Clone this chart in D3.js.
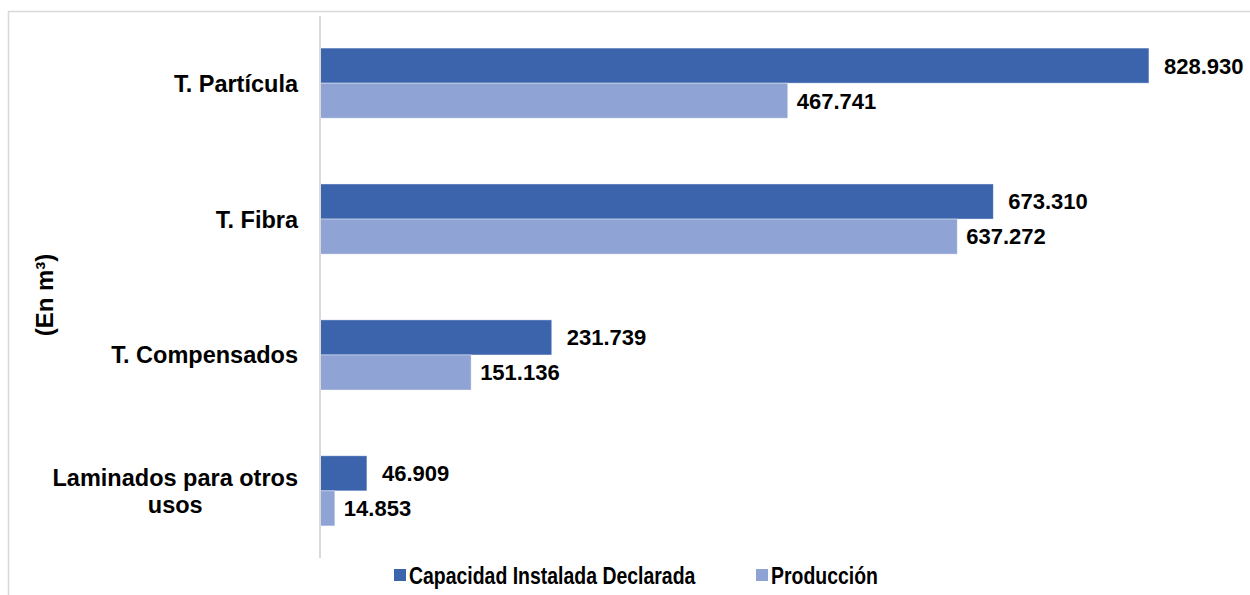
<!DOCTYPE html>
<html>
<head>
<meta charset="utf-8">
<script src="https://cdn.jsdelivr.net/npm/d3@7"></script>
<style>
  body { margin: 0; background: #fff; }
  text { font-family: "Liberation Sans", Arial, sans-serif; font-weight: bold; fill: #000; }
</style>
</head>
<body>
<div id="chart"></div>
<script>
const width = 1250;
const height = 595;

// data (m3)
const categories = ["T. Partícula", "T. Fibra", "T. Compensados", "Laminados para otros usos"];
const categoryLines = [["T. Partícula"], ["T. Fibra"], ["T. Compensados"], ["Laminados para otros", "usos"]];
const seriesNames = ["Capacidad Instalada Declarada", "Producción"];
const capacidad = [828930, 673310, 231739, 46909];
const produccion = [467741, 637272, 151136, 14853];
const seriesColors = ["#3b64ad", "#8fa4d5"];

const labelGap = [15, 9];
const fmt = v => d3.format(",")(v).replace(/,/g, ".");

const svg = d3.select("#chart")
  .append("svg")
  .attr("width", width)
  .attr("height", height);

// chart frame
svg.append("rect")
  .attr("x", 8.5)
  .attr("y", 11.5)
  .attr("width", 1400)
  .attr("height", 800)
  .attr("fill", "#fff")
  .attr("stroke", "#d9d9d9")
  .attr("stroke-width", 1.5);

const x = d3.scaleLinear()
  .domain([0, 930000])
  .range([320, 1250]);

const y = d3.scaleBand()
  .domain(categories)
  .range([16, 558])
  .paddingInner(0.484)
  .paddingOuter(0.236);

const ySub = d3.scaleBand()
  .domain(seriesNames)
  .range([0, y.bandwidth()]);

const rows = categories.map((c, i) => ({
  category: c,
  lines: categoryLines[i],
  values: [capacidad[i], produccion[i]]
}));

const groups = svg.selectAll(".grp")
  .data(rows)
  .enter()
  .append("g")
  .attr("class", "grp")
  .attr("transform", d => `translate(0, ${y(d.category)})`);

groups.selectAll("rect")
  .data(d => d.values.map((v, k) => ({ v, k })))
  .enter()
  .append("rect")
  .attr("x", x(0))
  .attr("y", d => ySub(seriesNames[d.k]))
  .attr("width", d => x(d.v) - x(0))
  .attr("height", ySub.bandwidth())
  .attr("fill", d => seriesColors[d.k])
  .attr("stroke", "#fff")
  .attr("stroke-opacity", 0.5)
  .attr("stroke-width", 0.8);

groups.selectAll(".val")
  .data(d => d.values.map((v, k) => ({ v, k })))
  .enter()
  .append("text")
  .attr("class", "val")
  .attr("x", d => x(d.v) + labelGap[d.k])
  .attr("y", d => ySub(seriesNames[d.k]) + ySub.bandwidth() / 2)
  .attr("dy", "0.36em")
  .style("font-size", "22px")
  .text(d => fmt(d.v));

// axis line
svg.append("line")
  .attr("x1", x(0))
  .attr("x2", x(0))
  .attr("y1", y.range()[0])
  .attr("y2", y.range()[1])
  .attr("stroke", "#d9d9d9")
  .attr("stroke-width", 2);

// category labels
const lineH = 27;
svg.selectAll(".cat")
  .data(rows)
  .enter()
  .append("text")
  .attr("class", "cat")
  .style("font-size", "23.5px")
  .each(function (d) {
    const t = d3.select(this);
    const cy = y(d.category) + y.bandwidth() / 2;
    const n = d.lines.length;
    d.lines.forEach((ln, j) => {
      t.append("tspan")
        .attr("y", cy + (j - (n - 1) / 2) * lineH)
        .attr("dy", "0.36em")
        .text(ln);
    });
    if (n === 1) {
      t.attr("text-anchor", "end").selectAll("tspan").attr("x", 298);
    } else {
      const spans = t.selectAll("tspan").nodes();
      const maxW = d3.max(spans, s => s.getComputedTextLength());
      t.attr("text-anchor", "middle").selectAll("tspan").attr("x", 298 - maxW / 2);
    }
  });

// y axis title
svg.append("text")
  .attr("transform", "translate(53, 295) rotate(-90)")
  .attr("text-anchor", "middle")
  .style("font-size", "24px")
  .text("(En m³)");

// legend
const legendX = [394, 756];
const legend = svg.selectAll(".leg")
  .data(seriesNames)
  .enter()
  .append("g")
  .attr("class", "leg")
  .attr("transform", (d, i) => `translate(${legendX[i]}, 569)`);

legend.append("rect")
  .attr("width", 12)
  .attr("height", 12)
  .attr("fill", (d, i) => seriesColors[i]);

legend.append("text")
  .attr("x", 15)
  .attr("y", 15)
  .style("font-size", "24px")
  .text(d => d)
  .each(function () {
    const w = this.getComputedTextLength();
    d3.select(this)
      .attr("textLength", w * 0.81)
      .attr("lengthAdjust", "spacingAndGlyphs");
  });
</script>
</body>
</html>
